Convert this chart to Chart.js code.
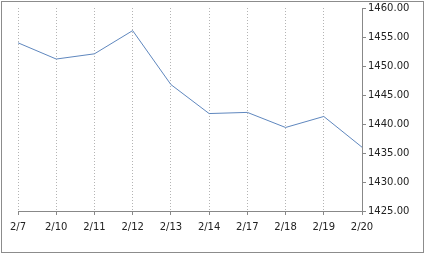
<!DOCTYPE html>
<html lang="en">

<head>
    <meta charset="UTF-8">
    <script src="https://cdn.jsdelivr.net/npm/chart.js"></script>
    <title>Chart</title>
    <style>
        body { margin: 0; background: #fff; }
        .areaGrafico { position: relative; width: 426px; height: 256px; }
    </style>
</head>

<body>
    <div class="areaGrafico">
        <canvas id="myChart" width="426" height="256"></canvas>
    </div>
</body>

</html>

<script>
    // dados do gráfico
    var datas = ['2/7', '2/10', '2/11', '2/12', '2/13', '2/14', '2/17', '2/18', '2/19', '2/20']
    var valores = [1454.0, 1451.2, 1452.1, 1456.1, 1446.8, 1441.8, 1442.0, 1439.4, 1441.3, 1436.0]
    var yMin = 1425
    var yMax = 1460
    var yPasso = 5

    // moldura cinza em volta
    const moldura = {
        id: 'moldura',
        afterDraw(chart) {
            const c = chart.ctx
            c.save()
            c.strokeStyle = '#8c8c8c'
            c.lineWidth = 1
            c.strokeRect(1.5, 1.5, 422, 251)
            c.restore()
        }
    }

    const ctx1 = document.getElementById('myChart')

    new Chart(ctx1, {
        type: 'line',
        data: {
            labels: datas,
            datasets: [{
                data: valores,
                borderColor: 'rgb(95, 135, 190)',
                borderWidth: 1,
                pointRadius: 0,
                tension: 0,
                fill: false
            }]
        },
        options: {
            responsive: false,
            animation: false,
            devicePixelRatio: 1,
            layout: {
                padding: { left: 18, top: 7, right: 0, bottom: 0 }
            },
            plugins: {
                legend: { display: false },
                tooltip: { enabled: false }
            },
            scales: {
                x: {
                    offset: false,
                    grid: {
                        color: '#b4b4b4',
                        tickColor: '#888',
                        tickBorderDash: [],
                        tickLength: 4
                    },
                    border: { color: '#888', dash: [1, 2] },
                    ticks: {
                        color: '#222',
                        font: { family: 'DejaVu Sans', size: 10 },
                        padding: 6,
                        maxRotation: 0,
                        autoSkip: false
                    },
                    afterFit: function (scale) { scale.height = 45 }
                },
                y: {
                    position: 'right',
                    min: yMin,
                    max: yMax,
                    grid: {
                        drawOnChartArea: false,
                        color: '#888',
                        tickLength: 4
                    },
                    border: { color: '#888' },
                    ticks: {
                        stepSize: yPasso,
                        color: '#222',
                        font: { family: 'DejaVu Sans', size: 10 },
                        padding: 2,
                        callback: function (v) { return v.toFixed(2) }
                    },
                    afterFit: function (scale) { scale.width = 64 }
                }
            }
        },
        plugins: [moldura]
    });
</script>
